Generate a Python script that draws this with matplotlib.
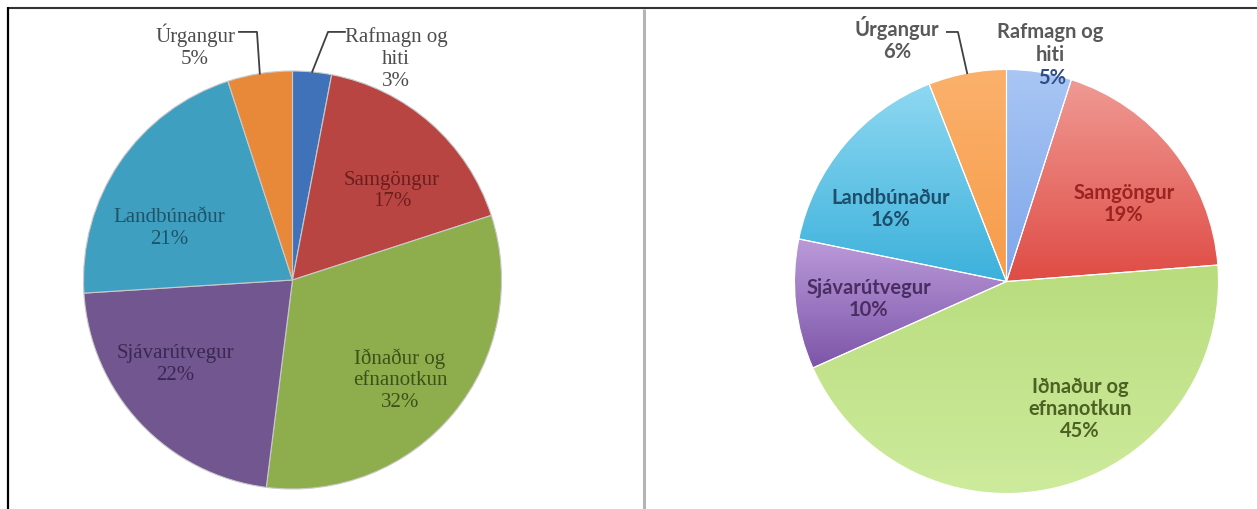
import numpy as np
import matplotlib
matplotlib.use('Agg')
import matplotlib.pyplot as plt
from matplotlib.colors import LinearSegmentedColormap

W, H = 1257, 510

# data
labels = ['Rafmagn og\nhiti', 'Samgöngur', 'Iðnaður og\nefnanotkun',
          'Sjávarútvegur', 'Landbúnaður', 'Úrgangur']
left_vals = [3, 17, 32, 22, 21, 5]
right_vals = [5, 19, 45, 10, 16, 6]

# styles
left_colors = ['#3f72b8', '#b94543', '#8eae4d', '#72568f', '#3f9fc1', '#e8893a']
left_text = ['#4d4d4d', '#6b1f1d', '#3b5318', '#3a2852', '#1d5468', '#4d4d4d']
right_top = ['#a9c6f4', '#f09a94', '#b9dc7e', '#bb9ad9', '#8fd8f2', '#fbb16c']
right_bottom = ['#7ea6ea', '#df4c45', '#cdeb9c', '#7d55a9', '#3cb1db', '#f79c4a']
right_text = ['#595959', '#9b2320', '#4b6222', '#4a2e63', '#1d4e6b', '#595959']

# label centres (pie units, centre 0,0 radius 1)
left_pos = [(0.495, 1.062), (0.476, 0.431), (0.514, -0.474),
            (-0.562, -0.40), (-0.591, 0.251), (-0.466, 1.124)]
right_pos = [(0.205, 1.127), (0.554, 0.370), (0.347, -0.597),
             (-0.649, -0.078), (-0.545, 0.347), (-0.516, 1.149)]

fig = plt.figure(figsize=(W / 100, H / 100), dpi=100)
fig.patch.set_facecolor('white')

# frame lines
bg = fig.add_axes([0, 0, 1, 1])
bg.set_xlim(0, W)
bg.set_ylim(H, 0)
bg.axis('off')
bg.plot([8, W], [9, 9], color='#333333', lw=1.5, solid_capstyle='butt')
bg.plot([8.3, 8.3], [8.2, H], color='black', lw=1.6, solid_capstyle='butt')
bg.plot([643.5, 643.5], [10, H], color='#b4b4b4', lw=2.2, solid_capstyle='butt')


def make_ax(cx, cy, r):
    return fig.add_axes([(cx - r) / W, (H - cy - r) / H, 2 * r / W, 2 * r / H])


def leader(ax, wedge, pts, color):
    th = np.deg2rad((wedge.theta1 + wedge.theta2) / 2)
    xs = [p[0] for p in pts] + [np.cos(th)]
    ys = [p[1] for p in pts] + [np.sin(th)]
    ax.plot(xs, ys, color=color, lw=1.3, clip_on=False)


# left pie
axl = make_ax(292.5, 281, 209)
wl, _ = axl.pie(left_vals, colors=left_colors, startangle=90, counterclock=False,
                radius=1, wedgeprops=dict(edgecolor='#c9c9c9', linewidth=0.8))
axl.set_xlim(-1, 1)
axl.set_ylim(-1, 1)
axl.axis('off')
for i, lab in enumerate(labels):
    x, y = left_pos[i]
    axl.text(x, y, lab + '\n' + str(left_vals[i]) + '%', ha='center', va='center',
             multialignment='center', fontsize=15, family='Liberation Serif',
             color=left_text[i], linespacing=1.2)
leader(axl, wl[5], [(-0.256, 1.187), (-0.17, 1.187)], '#404040')
leader(axl, wl[0], [(0.251, 1.187), (0.17, 1.187)], '#404040')

# right pie, gradient filled slices
axr = make_ax(1006.5, 282.5, 212)
wr, _ = axr.pie(right_vals, colors=right_bottom, startangle=90, counterclock=False,
                radius=1, wedgeprops=dict(edgecolor='white', linewidth=0.8))
for i, w in enumerate(wr):
    ext = w.get_path().get_extents(w.get_patch_transform())
    cmap = LinearSegmentedColormap.from_list('g%d' % i, [right_top[i], right_bottom[i]])
    grad = np.linspace(0, 1, 256).reshape(-1, 1)
    im = axr.imshow(grad, cmap=cmap, aspect='auto', origin='upper',
                    extent=[ext.x0, ext.x1, ext.y0, ext.y1], zorder=w.get_zorder() - 0.1)
    im.set_clip_path(w)
    w.set_facecolor('none')
axr.set_xlim(-1, 1)
axr.set_ylim(-1, 1)
axr.axis('off')
for i, lab in enumerate(labels):
    x, y = right_pos[i]
    if i == 0:
        axr.text(x, y, lab, ha='center', va='center', multialignment='center',
                 fontsize=14.5, family='Lato', weight='bold', color=right_text[i])
        axr.text(x + 0.01, 0.965, str(right_vals[i]) + '%', ha='center', va='center',
                 fontsize=14.5, family='Lato', weight='bold', color='#2f4d85')
        continue
    axr.text(x, y, lab + '\n' + str(right_vals[i]) + '%', ha='center', va='center',
             multialignment='center', fontsize=14.5, family='Lato', weight='bold',
             color=right_text[i], linespacing=1.1)
leader(axr, wr[5], [(-0.281, 1.177), (-0.229, 1.177)], '#404040')

fig.savefig('out.png', dpi=100)
